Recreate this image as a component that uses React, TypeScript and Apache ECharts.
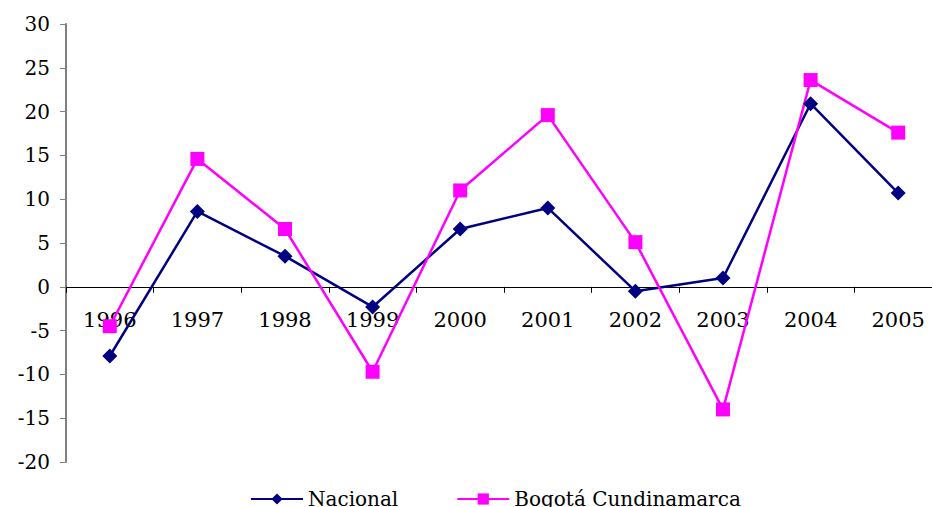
import React, { useEffect, useRef } from "react";
import * as echarts from "echarts";

const years = ["1996", "1997", "1998", "1999", "2000", "2001", "2002", "2003", "2004", "2005"];
const nacional = [-7.9, 8.6, 3.5, -2.3, 6.6, 9.0, -0.5, 1.0, 20.9, 10.7];
const bogota = [-4.5, 14.6, 6.6, -9.7, 11.0, 19.6, 5.1, -14.0, 23.6, 17.6];

const FONT = "'DejaVu Serif', serif";

export default function App() {
  const ref = useRef<HTMLDivElement>(null);
  useEffect(() => {
    if (!ref.current) return;
    const chart = echarts.init(ref.current, undefined, { renderer: "svg" });
    chart.setOption({
      animation: false,
      backgroundColor: "#ffffff",
      grid: { left: 66, right: 0, top: 24, bottom: 45, containLabel: false, outerBoundsMode: "none" },
      legend: {
        top: 484,
        left: 245,
        itemWidth: 52,
        itemHeight: 14,
        itemGap: 58,
        textStyle: { fontFamily: FONT, fontSize: 20, color: "#000" },
        data: ["Nacional", "Bogotá Cundinamarca"],
      },
      xAxis: {
        type: "category",
        data: years,
        boundaryGap: true,
        offset: -175.2,
        axisLine: { onZero: false, lineStyle: { color: "#000", width: 1 } },
        axisTick: { show: true, length: 6, alignWithLabel: false, lineStyle: { color: "#000" } },
        axisLabel: { fontFamily: FONT, fontSize: 21, color: "#000", margin: 23, interval: 0 },
        splitLine: { show: false },
      },
      yAxis: {
        type: "value",
        min: -20,
        max: 30,
        interval: 5,
        axisLine: { show: true, lineStyle: { color: "#808080", width: 2 } },
        axisTick: { show: true, length: 6, lineStyle: { color: "#808080" } },
        axisLabel: { fontFamily: FONT, fontSize: 20, color: "#000", margin: 16 },
        splitLine: { show: false },
      },
      series: [
        {
          name: "Nacional",
          type: "line",
          data: nacional,
          symbol: "diamond",
          symbolSize: 15,
          lineStyle: { color: "#000080", width: 2.5 },
          itemStyle: { color: "#000080" },
        },
        {
          name: "Bogotá Cundinamarca",
          type: "line",
          data: bogota,
          symbol: "rect",
          symbolSize: 14,
          lineStyle: { color: "#FF00FF", width: 2.5 },
          itemStyle: { color: "#FF00FF" },
        },
      ],
    });
    return () => chart.dispose();
  }, []);
  return (
    <div
      ref={ref}
      style={{ position: "fixed", left: 0, top: 0, width: 942, height: 507, background: "#fff" }}
    />
  );
}
